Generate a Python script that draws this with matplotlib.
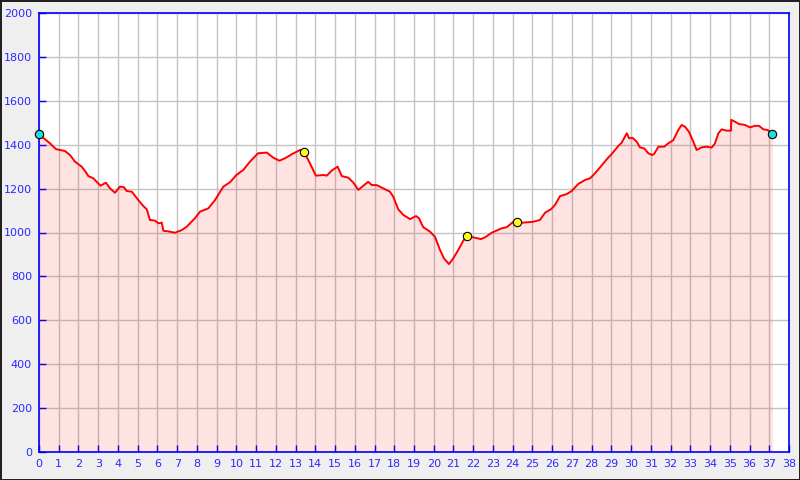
import numpy as np
import matplotlib
matplotlib.use("Agg")
import matplotlib.pyplot as plt

# elevation profile: distance (km) and altitude (m)
distance_km = [
    0.0, 0.25, 0.56, 0.86, 1.32, 1.57, 1.82, 2.16, 2.36, 2.5, 2.75, 3.12, 3.39,
    3.6, 3.85, 4.1, 4.31, 4.44, 4.7, 5.03, 5.28, 5.46, 5.62, 5.88, 6.05, 6.22,
    6.3, 6.55, 6.89, 7.23, 7.48, 7.9, 8.16, 8.58, 8.92, 9.34, 9.68, 10.0,
    10.35, 10.69, 11.1, 11.54, 11.87, 12.18, 12.46, 12.8, 13.22, 13.44, 13.73,
    14.03, 14.41, 14.58, 14.83, 15.13, 15.34, 15.67, 15.93, 16.18, 16.43,
    16.68, 16.86, 17.11, 17.45, 17.78, 17.95, 18.2, 18.46, 18.8, 19.1, 19.25,
    19.47, 19.81, 20.06, 20.32, 20.52, 20.77, 20.99, 21.24, 21.5, 21.7, 22.0,
    22.39, 22.6, 22.94, 23.44, 23.7, 24.03, 24.23, 24.54, 25.04, 25.38, 25.64,
    25.94, 26.14, 26.4, 26.74, 26.99, 27.32, 27.66, 27.92, 28.09, 28.42,
    28.76, 29.02, 29.35, 29.52, 29.78, 29.9, 30.06, 30.28, 30.45, 30.67,
    30.87, 31.07, 31.17, 31.38, 31.68, 31.88, 32.14, 32.39, 32.56, 32.73,
    32.93, 33.15, 33.32, 33.57, 33.83, 34.08, 34.25, 34.42, 34.59, 34.84,
    35.06, 35.07, 35.26, 35.47, 35.77, 36.02, 36.28, 36.48, 36.7, 36.92, 37.16,
]
elevation_m = [
    1447, 1429, 1406, 1380, 1371, 1353, 1323, 1300, 1277, 1257, 1247, 1213,
    1227, 1201, 1181, 1209, 1206, 1189, 1186, 1148, 1121, 1106, 1057, 1054,
    1042, 1045, 1008, 1005, 999, 1011, 1026, 1065, 1095, 1110, 1148, 1209,
    1229, 1262, 1285, 1323, 1361, 1364, 1341, 1327, 1338, 1356, 1376, 1365,
    1315, 1259, 1262, 1259, 1282, 1300, 1257, 1250, 1227, 1194, 1213, 1231,
    1216, 1216, 1201, 1186, 1163, 1106, 1080, 1061, 1075, 1065, 1024, 1004,
    981, 920, 882, 856, 882, 920, 963, 984, 978, 970, 978, 999, 1019, 1024,
    1049, 1046, 1045, 1049, 1057, 1090, 1106, 1125, 1166, 1175, 1189, 1221,
    1239, 1247, 1262, 1296, 1333, 1358, 1394, 1409, 1452, 1429, 1432, 1414,
    1388, 1383, 1361, 1353, 1358, 1391, 1391, 1406, 1421, 1467, 1490, 1482,
    1459, 1414, 1376, 1388, 1391, 1387, 1406, 1452, 1470, 1464, 1464, 1513,
    1505, 1494, 1490, 1479, 1486, 1486, 1470, 1467, 1447,
]

# waypoints
endpoint_km = [0.0, 37.16]
endpoint_m = [1447, 1447]
waypoint_km = [13.44, 21.7, 24.23]
waypoint_m = [1365, 984, 1046]

x_ticks = np.arange(0, 39, 1)
y_ticks = np.arange(0, 2001, 200)

fig = plt.figure(figsize=(8, 4.8), dpi=100)
fig.patch.set_facecolor("#efefef")
fig.patch.set_edgecolor("#222222")
fig.patch.set_linewidth(1.0)
ax = fig.add_axes([39 / 800, 28 / 480, 750 / 800, 439 / 480])
ax.set_facecolor("white")

ax.fill_between(distance_km, elevation_m, 0, color="red", alpha=0.11,
                linewidth=0, zorder=2)
ax.plot(distance_km, elevation_m, color="red", linewidth=1.4, zorder=3)
ax.plot(endpoint_km, endpoint_m, "o", color="#22dddd", markeredgecolor="black",
        markersize=6, markeredgewidth=0.8, zorder=4, clip_on=False)
ax.plot(waypoint_km, waypoint_m, "o", color="#ffff22", markeredgecolor="black",
        markersize=6, markeredgewidth=0.8, zorder=4)

ax.set_xlim(0, 38)
ax.set_ylim(0, 2000)
ax.set_xticks(x_ticks)
ax.set_yticks(y_ticks)
ax.grid(True, color="#c4c4c4", linewidth=1)
ax.set_axisbelow(True)

for side in ax.spines.values():
    side.set_color("blue")
    side.set_linewidth(1.2)
ax.tick_params(direction="in", length=5, width=1, colors="blue",
               labelcolor="#2a2aff", labelsize=8, pad=5)

fig.savefig("out.png", dpi=100, facecolor=fig.get_facecolor(),
            edgecolor=fig.get_edgecolor())
